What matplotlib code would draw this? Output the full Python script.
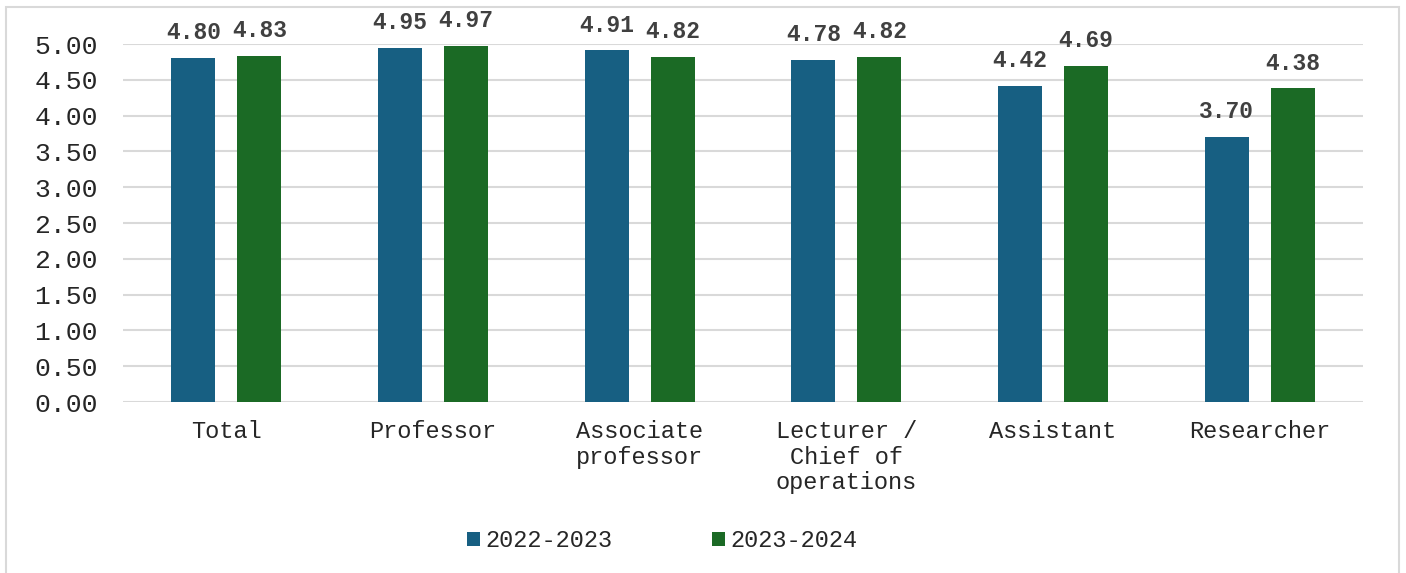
import numpy as np
import matplotlib.pyplot as plt
from matplotlib.patches import Rectangle

categories = ["Total", "Professor", "Associate\nprofessor", "Lecturer /\nChief of\noperations", "Assistant", "Researcher"]
series_names = ["2022-2023", "2023-2024"]
values_2223 = [4.80, 4.95, 4.91, 4.78, 4.42, 3.70]
values_2324 = [4.83, 4.97, 4.82, 4.82, 4.69, 4.38]

blue = "#175F82"
green = "#1B6A25"
font = "Liberation Mono"

fig = plt.figure(figsize=(14.06, 5.73), dpi=100)
ax = fig.add_axes([0.0875, 0.2984, 0.8819, 0.6248])

# light grey frame round the chart
fig.patches.append(Rectangle((0.004, -0.02), 0.991, 1.007, transform=fig.transFigure,
                             fill=False, edgecolor="#D9D9D9", linewidth=1.5))

x = np.arange(len(categories))
w = 0.213
off = 0.16
b1 = ax.bar(x - off, values_2223, w, color=blue, label=series_names[0], zorder=3)
b2 = ax.bar(x + off, values_2324, w, color=green, label=series_names[1], zorder=3)

for bars, vals in ((b1, values_2223), (b2, values_2324)):
    for r, v in zip(bars, vals):
        ax.annotate(f"{v:.2f}", (r.get_x() + r.get_width() / 2, v), xytext=(0, 10),
                    textcoords="offset points", ha="center", va="bottom",
                    fontsize=16.5, fontweight="bold", color="#404040", family=font)

ax.set_xlim(-0.5, len(categories) - 0.5)
ax.set_ylim(0, 5)
ax.set_yticks(np.arange(0, 5.01, 0.5))
ax.set_yticklabels([f"{t:.2f}" for t in np.arange(0, 5.01, 0.5)], family=font, fontsize=19, color="#262626")
ax.set_xticks(x)
ax.set_xticklabels(categories, family=font, fontsize=17, color="#262626", linespacing=1.15)
ax.tick_params(axis="x", length=0, pad=13)
ax.tick_params(axis="y", length=0, pad=18)
ax.grid(axis="y", color="#D9D9D9", linewidth=1.5, zorder=0)
for s in ax.spines.values():
    s.set_visible(False)

leg = fig.legend(handles=[b1, b2], loc="center", bbox_to_anchor=(0.471, 0.056), ncol=2,
                 frameon=False, prop={"family": font, "size": 17}, handlelength=0.55,
                 handleheight=0.55, handletextpad=0.25, columnspacing=4.2)
for t in leg.get_texts():
    t.set_color("#262626")

fig.savefig("out.png", dpi=100)
